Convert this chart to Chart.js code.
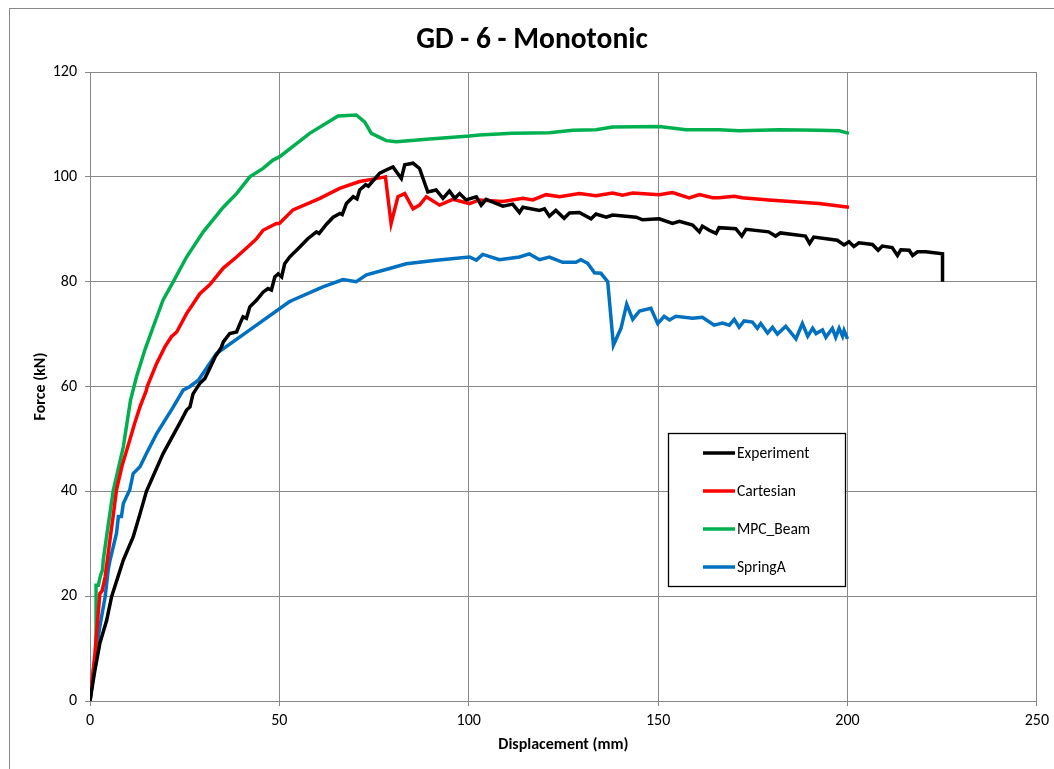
<!DOCTYPE html>
<html>
<head>
<meta charset="utf-8">
<script src="https://cdn.jsdelivr.net/npm/chart.js@4.4.1/dist/chart.umd.min.js"></script>
<style>
  html, body { margin: 0; padding: 0; background: #fff; }
  #wrap { width: 1054px; height: 769px; position: relative; }
</style>
</head>
<body>
<div id="wrap"><canvas id="myChart-GD6"></canvas></div>
<script>
const seriesNames = ['Experiment', 'Cartesian', 'MPC_Beam', 'SpringA'];
const seriesColors = ['#000000', '#FF0000', '#00B050', '#0070C0'];

const xTicks = [0, 50, 100, 150, 200, 250];
const yTicks = [0, 20, 40, 60, 80, 100, 120];

const expX = [0, 1.3, 2.6, 4.4, 5.7, 8.8, 11.4, 13.2, 14.9, 19.3, 23.7, 25.5, 26.4, 27.2, 29, 30.3, 31.2, 33, 34.7, 35.2, 36.9, 38.7, 39.6, 40.4, 41.3, 42.2, 44, 45.7, 47, 47.9, 48.8, 49.7, 50.6, 51.4, 52.7, 55.4, 57.5, 59.8, 60.5, 62.5, 64.2, 66, 66.6, 67.7, 69.5, 70.5, 71.2, 72.8, 73.5, 76.5, 78.2, 80, 82.2, 83.1, 85.3, 87, 89.2, 91.4, 93.2, 94.9, 96.3, 97.6, 99.3, 102, 103.3, 104.6, 109, 111.6, 113.4, 114.3, 118.7, 120, 121.3, 123, 125.2, 126.6, 129.2, 132.3, 133.6, 136.3, 138, 144.2, 145.9, 150.3, 153.8, 155.6, 159.1, 160.9, 161.7, 163.5, 165.3, 166.1, 170.5, 172.1, 173.2, 179.2, 181, 182.3, 188.9, 190, 191.1, 197.3, 199.1, 200.4, 201.7, 203, 206.6, 208.1, 209.2, 211.8, 213.2, 214.1, 216.3, 217.2, 218.5, 220.7, 225.1, 225.1];
const expY = [0, 5.9, 11, 15.4, 19.9, 26.9, 31.3, 35.7, 40, 47.2, 53, 55.5, 56.1, 58.6, 60.6, 61.5, 62.8, 65.6, 67.5, 68.5, 70.1, 70.4, 72, 73.3, 73, 75.2, 76.5, 78, 78.7, 78.4, 80.9, 81.5, 80.9, 83.4, 84.7, 86.6, 88.2, 89.5, 89.2, 91, 92.3, 93, 92.8, 94.9, 96.2, 95.8, 97.5, 98.5, 98.2, 100.7, 101.3, 101.9, 99.7, 102.3, 102.6, 101.6, 97.1, 97.5, 95.9, 97.3, 95.9, 96.8, 95.6, 96.2, 94.6, 95.7, 94.4, 94.8, 93.2, 94.2, 93.6, 93.9, 92.5, 93.6, 92.1, 93.1, 93.2, 92, 92.9, 92.3, 92.7, 92.3, 91.8, 92, 91.1, 91.5, 90.8, 89.5, 90.6, 89.8, 89.2, 90.3, 90.1, 88.7, 90, 89.5, 88.7, 89.3, 88.7, 87.3, 88.5, 87.9, 87, 87.6, 86.7, 87.4, 87.1, 86, 86.8, 86.5, 85, 86.1, 86, 85, 85.7, 85.7, 85.3, 80];

const cartX = [0, 1.3, 2.2, 2.6, 3.2, 4, 4.6, 5.5, 6.1, 7, 8.5, 10.5, 11.8, 13.2, 14.9, 15.1, 17.6, 19.8, 21.5, 22.9, 25.5, 29, 31.6, 35.2, 38.7, 42.2, 44, 45.7, 49.2, 50, 53.6, 60.7, 65.9, 71.2, 77.3, 78, 79.5, 81.3, 83.1, 85.3, 87, 88.8, 92.3, 95.8, 100.2, 102.8, 109, 114.3, 116.9, 120.4, 124, 129.2, 133.6, 138, 140.6, 143.3, 150.3, 153.8, 158.2, 160.9, 164.4, 166.1, 170.1, 172.2, 179.2, 192.5, 200.4];
const cartY = [0, 9, 17, 20.5, 21, 23.7, 27, 32, 35.2, 40.3, 45, 49.8, 53, 56.1, 59.3, 60, 64.4, 67.6, 69.5, 70.4, 73.9, 77.7, 79.4, 82.6, 84.7, 87, 88.2, 89.8, 91.1, 91.1, 93.7, 95.9, 97.8, 99.1, 99.9, 100, 91.1, 96.2, 96.8, 93.9, 94.6, 96.2, 94.6, 95.7, 94.9, 95.6, 95.3, 95.9, 95.6, 96.6, 96.2, 96.8, 96.4, 96.9, 96.5, 96.9, 96.6, 97, 96, 96.6, 96, 96, 96.3, 96, 95.6, 94.9, 94.2];

const beamX = [0, 1.6, 1.6, 2.2, 2.8, 3.3, 3.5, 4.5, 6.1, 8.8, 10.7, 12.3, 14.5, 16.7, 19.3, 22, 25.5, 29.9, 35.2, 38.7, 42.2, 45.7, 48.3, 50, 58, 65.5, 70.3, 72.5, 74.3, 78.2, 80.9, 89.7, 100.2, 102.8, 111.6, 121.3, 127.5, 133.6, 138, 150.3, 157.4, 166.1, 171.4, 182, 192.5, 197.8, 200.4];
const beamY = [0, 9.2, 22.1, 22.1, 24, 25, 26.9, 32, 40, 48.5, 57.4, 61.9, 67, 71.4, 76.5, 80, 84.7, 89.5, 94.2, 96.8, 100, 101.6, 103.2, 103.8, 108.3, 111.6, 111.8, 110.5, 108.3, 106.9, 106.7, 107.2, 107.8, 108, 108.3, 108.4, 108.9, 109, 109.5, 109.6, 109, 109, 108.8, 109, 108.9, 108.8, 108.3];

const springX = [0, 0.9, 2.6, 4, 4.8, 5.3, 7, 7.5, 8.3, 8.8, 10.5, 11.4, 13.2, 14.9, 17.6, 22, 24.6, 26.4, 28.6, 33.4, 42.2, 52.7, 53.6, 61.5, 66.8, 70.3, 73, 79.1, 83.5, 91.4, 100.2, 102, 103.7, 108.1, 113.4, 116, 118.7, 121.3, 124.8, 128.3, 129.6, 131.4, 133.2, 134.9, 136.7, 138.2, 140.2, 141.7, 143.3, 145.1, 148.1, 149.9, 151.6, 153, 154.7, 159.1, 161.7, 164.8, 167, 168.8, 170.1, 171.4, 172.7, 174.9, 176.2, 177.1, 178.9, 180.2, 181.5, 183.7, 186.4, 188.1, 189.5, 190.8, 191.7, 193.4, 194.3, 196, 196.9, 197.8, 198.7, 199.1, 200];
const springY = [0, 5.9, 14.2, 19.9, 25, 26.9, 32, 35.2, 35.2, 37.7, 40.3, 43.4, 44.7, 47.2, 51, 56.1, 59.3, 60, 61.2, 66.3, 70.8, 76.2, 76.5, 79, 80.4, 80, 81.3, 82.5, 83.4, 84.1, 84.7, 84.1, 85.2, 84.2, 84.7, 85.3, 84.2, 84.7, 83.7, 83.7, 84.2, 83.5, 81.7, 81.6, 80, 67.9, 71.1, 75.7, 72.8, 74.4, 74.9, 72, 73.4, 72.7, 73.4, 73, 73.2, 71.7, 72.1, 71.7, 72.8, 71.3, 72.5, 72.3, 71.1, 72, 70.2, 71.3, 70, 71.5, 69.1, 72, 69.6, 71.1, 70.1, 70.8, 69.4, 71.1, 69.4, 71.1, 69.6, 70.7, 69.1];

const seriesX = [expX, cartX, beamX, springX];
const seriesY = [expY, cartY, beamY, springY];

const gridGray = '#888888';
const fontFamily = 'Carlito, "Liberation Sans", Arial, sans-serif';

// white page + outer chart frame (runs past the right/bottom edge like the source)
const framePlugin = {
  id: 'frame',
  beforeDraw(chart) {
    const c = chart.ctx;
    c.save();
    c.fillStyle = '#fff';
    c.fillRect(0, 0, chart.width, chart.height);
    c.strokeStyle = gridGray;
    c.lineWidth = 1;
    c.strokeRect(9.5, 8.5, 1200, 900);
    c.restore();
  }
};

// boxed legend sitting inside the plot area
const boxLegend = {
  id: 'boxLegend',
  afterDraw(chart) {
    const c = chart.ctx;
    const bx = 668.5, by = 433.5, bw = 177, bh = 153;
    c.save();
    c.fillStyle = '#fff';
    c.fillRect(bx, by, bw, bh);
    c.strokeStyle = '#000';
    c.lineWidth = 1.3;
    c.strokeRect(bx, by, bw, bh);
    c.font = '15.5px ' + fontFamily;
    c.textBaseline = 'middle';
    c.textAlign = 'left';
    chart.data.datasets.forEach((ds, i) => {
      const y = 453 + i * 38;
      c.strokeStyle = ds.borderColor;
      c.lineWidth = 3.5;
      c.beginPath();
      c.moveTo(703, y);
      c.lineTo(735, y);
      c.stroke();
      c.fillStyle = '#000';
      c.fillText(ds.label, 737, y + 1);
    });
    c.restore();
  }
};

const ctx = document.getElementById('myChart-GD6');

new Chart(ctx, {
  type: 'scatter',
  data: {
    datasets: seriesNames.map((name, i) => ({
      label: name,
      data: seriesX[i].map((x, j) => ({ x: x, y: seriesY[i][j] })),
      showLine: true,
      fill: false,
      borderColor: seriesColors[i],
      backgroundColor: seriesColors[i],
      borderWidth: 3.5,
      pointRadius: 0,
      tension: 0
    }))
  },
  options: {
    responsive: true,
    maintainAspectRatio: false,
    animation: false,
    layout: {
      padding: { left: 26, right: 16, top: 0, bottom: 0 }
    },
    plugins: {
      legend: { display: false },
      tooltip: { enabled: false },
      title: {
        display: true,
        text: 'GD - 6 - Monotonic',
        color: '#000',
        font: { family: fontFamily, size: 29.5, weight: 'bold' },
        padding: { top: 23, bottom: 13.6 }
      }
    },
    scales: {
      x: {
        type: 'linear',
        min: 0,
        max: 250,
        afterBuildTicks: (scale) => { scale.ticks = xTicks.map(v => ({ value: v })); },
        afterFit: (scale) => { scale.height = 68; },
        ticks: {
          color: '#000',
          padding: 5,
          font: { family: fontFamily, size: 16 }
        },
        grid: { color: gridGray, tickLength: 5, lineWidth: 1 },
        border: { color: gridGray },
        title: {
          display: true,
          text: 'Displacement (mm)',
          color: '#000',
          font: { family: fontFamily, size: 16, weight: 'bold' },
          padding: { top: 0, bottom: 14.4 }
        }
      },
      y: {
        type: 'linear',
        min: 0,
        max: 120,
        afterBuildTicks: (scale) => { scale.ticks = yTicks.map(v => ({ value: v })); },
        afterFit: (scale) => { scale.width = 64; },
        ticks: {
          color: '#000',
          padding: 8,
          font: { family: fontFamily, size: 16 }
        },
        grid: { color: gridGray, tickLength: 5, lineWidth: 1 },
        border: { color: gridGray },
        title: {
          display: true,
          text: 'Force (kN)',
          color: '#000',
          font: { family: fontFamily, size: 16, weight: 'bold' },
          padding: { top: 5, bottom: 0 }
        }
      }
    }
  },
  plugins: [framePlugin, boxLegend]
});
</script>
</body>
</html>
